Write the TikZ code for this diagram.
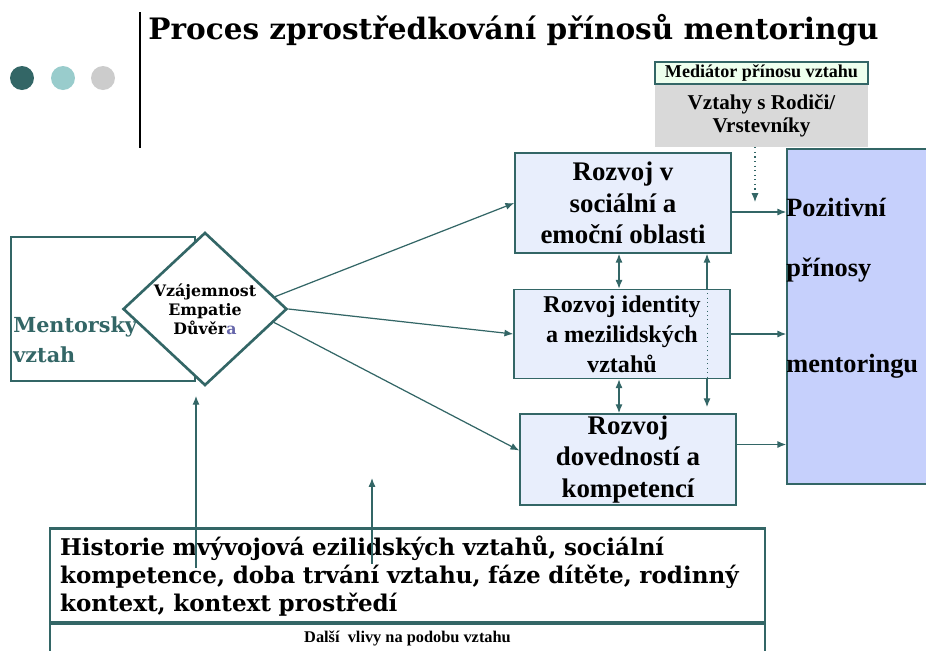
\documentclass[tikz,border=0pt]{standalone}
\usepackage{fontspec}
\setmainfont{Liberation Serif}
\newfontfamily\geofont{DejaVu Serif}
\usetikzlibrary{positioning, shapes.geometric, arrows.meta, backgrounds}
\definecolor{mtteal}{RGB}{51,102,102}
\definecolor{dotmid}{RGB}{153,204,204}
\definecolor{dotgray}{RGB}{204,204,204}
\definecolor{boxblue}{RGB}{232,238,252}
\definecolor{posblue}{RGB}{198,208,252}
\definecolor{medgreen}{RGB}{238,255,238}
\definecolor{medgray}{RGB}{217,217,217}
\definecolor{apurple}{RGB}{102,102,170}

\begin{document}
\begin{tikzpicture}[x=0.02cm, y=-0.02cm,
        arr/.style={draw=mtteal, line width=0.7pt, -{Latex[length=5pt,width=4pt]}},
        dblarr/.style={draw=mtteal, line width=0.7pt, {Latex[length=5pt,width=4pt]}-{Latex[length=5pt,width=4pt]}},
        dotbox/.style={circle, minimum size=0.48cm, inner sep=0pt},
        rozvoj/.style={draw=mtteal, line width=0.9pt, fill=boxblue, minimum width=4.32cm, inner sep=1pt, align=center, font=\bfseries\fontsize{15.3}{18}\selectfont},
        postext/.style={anchor=west, inner sep=0pt, font=\bfseries\fontsize{15}{17}\selectfont}]
        \useasboundingbox (0,0) rectangle (926,650);

        \node[dotbox, fill=mtteal] (dot1) at (22,78) {};
        \node[dotbox, fill=dotmid] (dot2) at (63,78) {};
        \node[dotbox, fill=dotgray] (dot3) at (103,78) {};
        \draw[line width=1.7pt] (140,12) -- (140,148);
        \node[anchor=base west, inner sep=0pt, font=\geofont\bfseries\fontsize{16.8}{20}\selectfont] (title) at (148,39) {Proces zprostředkování přínosů mentoringu};

        \node[draw=mtteal, line width=0.9pt, fill=medgreen, minimum width=4.26cm, minimum height=0.44cm, inner sep=0pt, font=\bfseries\fontsize{10.3}{11}\selectfont] (med) at (761.5,73) {Mediátor přínosu vztahu};
        \node[fill=medgray, minimum width=4.26cm, minimum height=1.24cm, inner sep=0pt, align=center, font=\bfseries\fontsize{12}{13}\selectfont] (rodice) at (761.5,116) {Vztahy s Rodiči/\\Vrstevníky};

        \node[draw=mtteal, line width=0.9pt, fill=posblue, minimum width=2.96cm, minimum height=6.7cm] (pos) at (861,316.5) {};
        \node[postext] (pos1) at (786,207) {Pozitivní};
        \node[postext] (pos2) at (786,270) {přínosy};
        \node[postext] (pos3) at (786,366) {mentoringu};

        \node[rozvoj, minimum height=2cm] (b1) at (623,203) {Rozvoj v\\sociální a\\emoční oblasti};
        \node[rozvoj, minimum height=1.78cm, font=\bfseries\fontsize{13.7}{17}\selectfont] (b2) at (622,334) {Rozvoj identity\\a mezilidských\\vztahů};
        \node[rozvoj, minimum height=1.74cm] (b3) at (628,459.5) {Rozvoj\\dovedností a\\kompetencí};

        \node[draw=mtteal, line width=1.5pt, minimum width=3.68cm, minimum height=2.88cm] (mbox) at (103,309) {};
        \node[diamond, draw=mtteal, line width=1.5pt, fill=white, minimum width=3.28cm, minimum height=2.88cm, inner sep=0pt, align=center, font=\geofont\bfseries\fontsize{9}{10.8}\selectfont] (dia) at (205,309) {Vzájemnost\\Empatie\\Důvěr\textcolor{apurple}{a}};
        \node[anchor=west, align=left, inner sep=0pt, text=mtteal, font=\geofont\bfseries\fontsize{11.8}{17}\selectfont] (mtxt) at (13,340) {Mentorsky\\vztah};

        \node[draw=mtteal, line width=1.5pt, minimum width=14.3cm, minimum height=1.9cm, text width=13.9cm, align=left, inner sep=0pt, font=\geofont\bfseries\fontsize{13.1}{16}\selectfont] (hist) at (407.5,576) {Historie mvývojová ezilidských vztahů, sociální\\kompetence, doba trvání vztahu, fáze dítěte, rodinný\\kontext, kontext prostředí};
        \node[draw=mtteal, line width=1.5pt, minimum width=14.3cm, minimum height=0.64cm, inner sep=0pt, font=\bfseries\fontsize{9.3}{10}\selectfont] (dalsi) at (407.5,638) {Další\ \ vlivy na podobu vztahu};

        \coordinate (lx) at (707,0);
        \coordinate (medend) at (755,202);
        \coordinate (h1) at (196,568);
        \coordinate (h2) at (372,564);
        \coordinate (h2t) at (372,478);

        \draw[arr] (dia.10) -- (b1.west);
        \draw[arr] (dia.east) -- (b2.west);
        \draw[arr] (dia.-11) -- ([yshift=0.18cm]b3.west);
        \draw[arr] ([yshift=-0.18cm]b1.east) -- ([yshift=-0.18cm]b1.east -| pos.west);
        \draw[arr] (b2.east) -- (b2.east -| pos.west);
        \draw[arr] ([yshift=0.3cm]b3.east) -- ([yshift=0.3cm]b3.east -| pos.west);
        \draw[dblarr] ([xshift=-0.08cm]b1.south) -- ([xshift=-0.08cm]b1.south |- b2.north);
        \draw[dblarr] ([xshift=-0.06cm]b2.south) -- ([xshift=-0.06cm]b2.south |- b3.north);
        \begin{pgfonlayer}{background}
        \draw[dblarr] (b1.south -| lx) -- ([yshift=0.12cm]b3.north -| lx);
        \end{pgfonlayer}
        \draw[mtteal, dotted, line width=0.5pt] (b2.north -| lx) -- (b2.south -| lx);
        \draw[mtteal, dotted, line width=0.6pt, -{Latex[length=5pt,width=4pt]}] (rodice.south -| medend) -- (medend);
        \draw[arr] (h1) -- ([yshift=-0.18cm]h1 |- dia.south);
        \draw[arr] (h2) -- (h2t);
    \end{tikzpicture}
\end{document}
